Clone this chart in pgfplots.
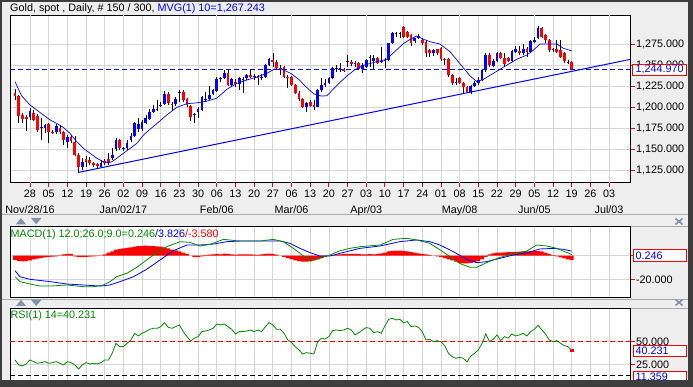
\documentclass[border=0pt]{standalone}
\usepackage{fontspec}
\setmainfont{Liberation Sans}
\usepackage{pgfplots}
\pgfplotsset{compat=1.18}
\usepackage{pgfplotstable}
\definecolor{bgc}{RGB}{238,238,238}
\definecolor{gridc}{RGB}{214,214,214}
\definecolor{darkb}{RGB}{62,62,62}
\definecolor{gblue}{RGB}{0,0,255}
\definecolor{gred}{RGB}{255,0,0}
\definecolor{ggreen}{RGB}{0,140,0}
\definecolor{icon}{RGB}{130,146,172}
\definecolor{sepc}{RGB}{170,170,170}
\newcommand\lbl{\fontsize{10.8}{12}\selectfont}

% up candles: d O H L C
\pgfplotstableread{
d O H L C
0 1188.3 1199.0 1185.0 1195.8
3 1175.3 1187.0 1161.4 1176.3
4 1175.3 1181.0 1169.3 1179.2
7 1171.3 1181.0 1169.0 1178.0
10 1159.5 1167.4 1151.5 1164.6
14 1129.8 1139.7 1125.8 1135.7
19 1129.8 1137.7 1127.8 1134.5
22 1139.7 1151.5 1137.7 1143.6
23 1150.4 1163.4 1148.8 1161.4
25 1150.7 1153.5 1148.8 1152.3
26 1151.5 1161.4 1149.6 1158.3
27 1161.4 1170.1 1159.4 1166.2
28 1166.2 1183.2 1165.4 1181.2
29 1174.1 1187.1 1171.3 1180.4
30 1174.1 1185.2 1172.5 1183.2
31 1182.0 1191.0 1180.4 1187.1
32 1186.3 1197.8 1185.0 1195.0
33 1195.1 1203.0 1193.1 1197.8
34 1197.8 1208.9 1196.0 1198.5
35 1202.0 1207.0 1200.0 1203.5
36 1204.2 1220.0 1203.0 1216.0
39 1204.2 1212.0 1202.0 1209.7
40 1216.8 1220.8 1207.0 1218.8
44 1191.0 1193.1 1181.2 1192.0
45 1195.1 1201.0 1187.1 1197.8
46 1197.0 1213.6 1196.3 1212.1
47 1208.9 1218.8 1206.9 1209.5
48 1209.7 1225.5 1208.9 1214.8
49 1216.0 1222.0 1215.0 1220.8
50 1220.0 1235.8 1218.8 1233.4
51 1234.0 1236.6 1230.7 1234.6
52 1234.6 1244.5 1233.4 1241.3
54 1226.7 1235.0 1225.0 1233.4
56 1227.9 1236.6 1220.8 1234.6
57 1233.0 1236.6 1217.6 1233.6
58 1234.6 1240.0 1233.0 1238.6
60 1236.4 1239.8 1232.6 1237.0
62 1235.5 1239.8 1232.6 1236.2
63 1236.6 1251.5 1235.0 1250.4
64 1250.4 1258.4 1249.2 1257.2
74 1201.0 1206.0 1195.0 1205.0
77 1201.0 1222.0 1200.0 1220.8
78 1220.8 1234.6 1218.8 1226.7
79 1226.7 1233.4 1224.7 1229.5
80 1228.7 1236.6 1227.9 1235.4
81 1234.6 1248.5 1233.4 1247.3
82 1246.0 1250.4 1242.5 1246.6
83 1244.5 1253.2 1242.5 1247.3
85 1254.0 1262.3 1248.5 1254.6
87 1251.2 1255.6 1248.5 1253.2
89 1245.3 1252.4 1240.5 1250.4
90 1248.5 1258.0 1247.0 1256.4
91 1258.8 1262.3 1248.5 1259.4
92 1255.6 1262.3 1244.5 1259.1
94 1254.0 1272.2 1252.4 1254.6
95 1256.0 1258.4 1246.5 1256.6
96 1256.4 1277.0 1255.0 1276.1
97 1276.1 1289.0 1275.0 1288.0
98 1287.8 1290.0 1284.0 1288.4
99 1288.0 1289.2 1282.0 1288.6
103 1279.3 1283.0 1277.0 1282.0
104 1282.0 1287.0 1281.0 1285.3
108 1265.0 1269.0 1261.0 1268.2
114 1229.0 1234.6 1226.7 1229.5
118 1218.8 1227.0 1216.0 1225.5
119 1225.5 1231.0 1224.0 1229.5
120 1229.5 1235.8 1226.7 1232.6
121 1232.6 1246.0 1231.0 1244.5
122 1244.5 1264.3 1242.5 1262.3
124 1249.6 1257.0 1248.0 1255.6
125 1255.6 1266.0 1254.0 1264.3
129 1255.6 1268.2 1254.4 1267.0
130 1266.2 1273.0 1264.3 1269.0
132 1264.3 1275.4 1262.3 1269.4
134 1266.2 1280.0 1265.0 1279.3
135 1278.1 1284.0 1276.1 1280.1
136 1282.1 1296.4 1281.0 1294.0
140 1268.2 1270.2 1266.2 1268.8
144 1253.6 1256.4 1251.2 1254.2
}\upC

% down candles: d O H L C
\pgfplotstableread{
d O H L C
-4 1216.8 1221.6 1208.9 1214.0
-3 1213.6 1214.8 1181.2 1190.3
-2 1191.1 1193.1 1181.2 1186.4
-1 1189.1 1191.1 1172.1 1186.7
1 1193.2 1197.0 1184.0 1185.5
2 1190.0 1192.0 1171.3 1173.3
5 1180.4 1182.0 1157.5 1171.3
6 1171.3 1173.0 1169.0 1170.1
8 1176.0 1179.0 1169.0 1171.3
9 1170.5 1172.5 1155.5 1161.4
11 1164.6 1167.4 1157.5 1160.2
12 1159.5 1166.0 1142.4 1143.6
13 1143.6 1145.6 1122.6 1129.8
15 1138.9 1142.4 1129.8 1134.9
16 1137.7 1141.6 1131.8 1133.7
17 1133.7 1135.7 1129.8 1131.8
18 1132.5 1134.5 1128.6 1130.6
20 1136.5 1138.5 1131.8 1133.7
21 1139.3 1145.6 1131.8 1134.5
24 1161.4 1162.2 1149.6 1151.5
37 1216.0 1218.8 1203.0 1205.0
38 1203.5 1207.0 1196.3 1203.0
41 1218.8 1221.0 1207.0 1208.9
42 1209.7 1210.9 1200.2 1203.0
43 1201.8 1203.0 1184.4 1189.1
53 1241.3 1244.5 1225.5 1226.7
55 1230.7 1233.4 1224.7 1227.5
59 1238.6 1244.5 1234.6 1235.8
61 1237.4 1238.6 1226.7 1235.0
65 1256.4 1264.3 1248.5 1254.4
66 1254.4 1256.4 1244.5 1246.5
67 1246.5 1250.4 1238.6 1246.0
68 1247.7 1249.0 1235.0 1236.6
69 1236.6 1238.6 1222.7 1234.6
70 1236.6 1237.4 1225.0 1226.7
71 1226.7 1227.9 1216.0 1217.6
72 1217.6 1219.0 1208.0 1210.0
73 1209.7 1211.0 1199.0 1201.0
75 1207.0 1208.9 1200.2 1201.8
76 1203.0 1208.9 1197.0 1200.2
84 1245.6 1247.0 1242.0 1243.7
86 1254.4 1256.0 1249.0 1251.2
88 1252.4 1254.0 1244.0 1245.3
93 1259.1 1259.5 1251.6 1252.4
100 1295.9 1297.0 1283.0 1284.0
101 1290.0 1291.0 1282.0 1284.0
102 1286.0 1287.0 1273.0 1276.1
105 1280.0 1282.0 1274.0 1277.0
106 1278.0 1279.0 1259.5 1264.3
107 1268.2 1269.0 1259.5 1265.0
109 1269.0 1270.0 1262.0 1264.3
110 1271.0 1272.0 1255.0 1257.2
111 1257.2 1259.1 1250.4 1256.6
112 1257.2 1259.1 1236.6 1238.6
113 1238.6 1239.8 1227.0 1228.7
115 1234.6 1236.0 1228.0 1229.5
116 1229.5 1230.7 1216.0 1224.7
117 1224.7 1225.5 1217.0 1218.8
123 1262.3 1265.0 1248.5 1250.4
126 1264.3 1266.0 1257.0 1258.4
127 1258.4 1264.3 1248.5 1251.6
128 1259.1 1260.0 1254.0 1255.6
131 1267.4 1273.0 1262.3 1264.3
133 1269.0 1272.2 1260.3 1266.2
137 1294.0 1295.0 1282.0 1284.0
138 1286.0 1286.8 1276.1 1280.1
139 1280.1 1281.0 1266.0 1268.2
141 1269.0 1280.0 1264.3 1266.2
142 1268.2 1280.0 1258.4 1260.3
143 1264.3 1266.2 1252.4 1255.6
145 1254.4 1255.6 1244.5 1245.0
}\dnC

% MACD histogram
\pgfplotstableread{
d h
-4 -3.5
-3 -4.5
-2 -4.8
-1 -4.5
0 -3.8
1 -3
2 -2.5
3 -2
4 -1.5
5 -1
6 -0.8
7 -0.5
8 0.3
9 1
10 1.5
11 1.5
12 -0.5
13 -1
14 -1.2
15 -1
16 -0.8
17 -0.6
18 -0.3
19 0.3
20 1
21 2.5
22 3.5
23 5
24 5.5
25 6
26 6.5
27 7
28 7.5
29 8
30 8.2
31 8.4
32 8.2
33 8
34 7.8
35 7.5
36 7
37 6
38 5
39 4.5
40 3.5
41 2.5
42 1.5
43 0
44 -1
45 -1.2
46 -0.5
47 0.5
48 0.8
49 1
50 1.5
51 1.2
52 1.8
53 1.5
54 1
55 0.8
56 1
57 1
58 1.2
59 1
60 0.8
61 0.6
62 1
63 1.5
64 1.8
65 1.5
66 0.8
67 0
68 -1
69 -2
70 -3
71 -4
72 -4.5
73 -5
74 -5
75 -4.8
76 -4
77 -3
78 -2
79 -1
80 0
81 0.5
82 1
83 1.2
84 1.5
85 1.5
86 1.5
87 1.5
88 1.3
89 1
90 1.2
91 1.3
92 1.2
93 1.5
94 2
95 2.5
96 3.5
97 4
98 4.2
99 4.2
100 4
101 3.5
102 3
103 2.5
104 2
105 1.5
106 1
107 0.5
108 0
109 -0.5
110 -1
111 -2
112 -3
113 -4
114 -5
115 -6
116 -6.5
117 -6.5
118 -6
119 -5.5
120 -4.5
121 -3
122 -1
123 1
124 2
125 2.5
126 2.5
127 2.8
128 3
129 3
130 3.2
131 3.4
132 3.5
133 3.5
134 3.7
135 3.8
136 3.9
137 3.5
138 2.5
139 1.5
140 0.5
141 -0.5
142 -1.5
143 -2.2
144 -3
145 -3.6
}\hist

% RSI
\pgfplotstableread{
d r
-4 29.7
-3 24.3
-2 23.2
-1 25.4
0 29.7
1 27.9
2 26.1
3 26.8
4 27.9
5 26.1
6 26.8
7 27.9
8 26.1
9 24.3
10 27.9
11 26.8
12 24.3
13 19.9
14 24.3
15 26.8
16 25.4
17 26.1
18 25.4
19 26.8
20 29.7
21 29.7
22 37
23 47.8
24 44.2
25 44.2
26 47.8
27 51.4
28 58.7
29 55.8
30 58.7
31 60.5
32 63
33 64.1
34 64.1
35 65.9
36 70.3
37 65.2
38 64.1
39 65.9
40 67.8
41 60.5
42 55.1
43 50.4
44 53.3
45 55.1
46 60.5
47 61.2
48 62.3
49 64.1
50 68.8
51 67.8
52 68.8
53 65.9
54 63
55 58
56 60.5
57 60.5
58 61.2
59 62.3
60 60.5
61 62.3
62 60.5
63 65.9
64 70.3
65 67.8
66 63
67 63
68 58.7
69 51.4
70 48.6
71 44.2
72 40.6
73 36.2
74 37.7
75 37
76 36.2
77 49.6
78 53.3
79 52.5
80 55.1
81 61.6
82 62.3
83 61.6
84 62.3
85 64.1
86 62.3
87 56.9
88 59.4
89 62.3
90 64.9
91 64.1
92 59.4
93 60.5
94 58.7
95 66.7
96 73.9
97 75
98 73.2
99 73.9
100 70.3
101 71.4
102 65.9
103 66.7
104 65.2
105 60.5
106 51.4
107 52.2
108 49.6
109 50.7
110 49.6
111 45.3
112 37
113 33.3
114 31.5
115 32.6
116 31.5
117 27.9
118 34.1
119 37
120 40.6
121 47.8
122 58
123 49.6
124 52.2
125 56.9
126 50.7
127 55.1
128 53.3
129 58
130 55.8
131 56.9
132 58.7
133 55.8
134 60.5
135 63
136 67.4
137 62.3
138 58
139 51.4
140 49.6
141 50.7
142 47.8
143 45.3
144 44.2
145 40.2
}\rsi

\pgfplotsset{
  panel/.style={
    anchor=south west, scale only axis, width=620.7pt,
    xmin=-5.353, xmax=160.79,
    axis line style={draw=black, line width=0.9pt},
    xtick={0,5,...,155},
    grid=major, major grid style={draw=gridc, line width=0.7pt},
    ytick pos=right, yticklabel pos=right,
    tick align=outside, major tick length=4pt,
    tick style={draw=gred, line width=0.9pt},
    tick label style={font=\lbl, text=black},
    yticklabel style={inner sep=1.2pt, /pgf/number format/.cd, fixed, fixed zerofill, precision=3, 1000 sep={,}, assume math mode=true},
    scaled y ticks=false, scaled x ticks=false,
  },
  wick/.style={draw=none, mark=none, forget plot,
    error bars/.cd, y dir=plus, y explicit, error mark=none,
    error bar style={draw=black, line width=0.6pt}},
  body/.style={draw=none, mark=none, forget plot,
    error bars/.cd, y dir=plus, y explicit, error mark=none,
    error bar style={draw=#1, line width=2.7pt}},
}

\begin{document}
\begin{tikzpicture}[x=1pt,y=1pt]
\useasboundingbox (0,0) rectangle (693,387);
\fill[bgc] (0,0) rectangle (693,387);
% separators
\draw[sepc, line width=1pt] (2,172) -- (688,172);
\draw[sepc, line width=1pt] (2,87.5) -- (688,87.5);
\draw[sepc, line width=1pt] (630,160.5) -- (688,160.5);
\draw[sepc, line width=1pt] (630,78.7) -- (688,78.7);

% ---------- main price panel ----------
\begin{axis}[panel, at={(10pt,204.3pt)}, height=167.7pt,
  ymin=1110.76, ymax=1309.77, ytick={1125,1150,...,1275},
  xtick pos=bottom,
  xticklabels={28,05,12,19,26,02,09,16,23,30,06,13,20,27,06,13,20,27,03,10,17,24,01,08,15,22,29,05,12,19,26,03},
  extra x ticks={0,25,50,70,90,115,135,155},
  extra x tick labels={Nov/28/16,Jan/02/17,Feb/06,Mar/06,Apr/03,May/08,Jun/05,Jul/03},
  extra x tick style={xticklabel style={yshift=-15pt}},
  axis background/.style={fill=white},
]
\addplot[wick] table[x=d, y=L, y error expr=\thisrow{H}-\thisrow{L}] {\upC};
\addplot[wick] table[x=d, y=L, y error expr=\thisrow{H}-\thisrow{L}] {\dnC};
\addplot[body=gblue] table[x=d, y=O, y error expr={max(\thisrow{C}-\thisrow{O},0.9)}] {\upC};
\addplot[body=gred] table[x=d, y=C, y error expr={max(\thisrow{O}-\thisrow{C},0.9)}] {\dnC};
% 10-day moving average
\addplot[gblue, line width=0.7pt] coordinates {(-4,1230.7) (-3.4,1224.7) (-2.2,1213.6) (0,1203) (1.8,1197) (3.6,1191) (5.4,1185.2) (7.1,1181.2) (8.9,1176.5) (10.7,1169.3) (12.5,1159.4) (14.3,1151.5) (16.1,1145.6) (17.9,1139.7) (19.6,1135.7) (21,1134.5) (21.9,1135.7) (23.2,1139.7) (25,1145.6) (26.8,1151.5) (28.6,1157.5) (30.4,1167.4) (32.1,1174) (33.5,1179.2) (36.6,1191.1) (39.3,1200.2) (42,1204.5) (44.6,1205.5) (47.3,1207.5) (50,1211) (52.7,1221.6) (55.4,1228.7) (58,1232.6) (60.5,1235.8) (63.4,1240.5) (65.5,1245.8) (67.9,1244.5) (70,1240) (72,1233) (74,1224) (76,1216) (78,1213.5) (79.5,1214) (81,1221) (83,1230) (85,1238) (87,1245) (89.2,1250) (92.8,1254.4) (95.5,1257.2) (97.3,1265) (100,1276) (101.8,1281) (103.5,1284.8) (105.3,1281) (107.1,1278) (109.7,1275.4) (112.4,1266.3) (115,1252.4) (117.8,1237.4) (119.6,1230.7) (121.4,1233.4) (124,1240.5) (127.7,1250.4) (130.3,1257.2) (133,1262.3) (134.8,1268.2) (136.5,1275.4) (138.3,1275.4) (141,1275.4) (142.8,1270.2) (145,1267.2)};
% trend line
\addplot[gblue, line width=1pt] coordinates {(13,1123) (160.8,1257.2)};
% last close line
\addplot[gblue, line width=1pt, dash pattern=on 5pt off 3pt] coordinates {(-5.353,1244.97) (160.79,1244.97)};
\end{axis}

% ---------- MACD panel ----------
\begin{axis}[panel, at={(10pt,89.7pt)}, height=70.6pt,
  ymin=-34.67, ymax=24.17, ytick={-20,0},
  xticklabels={}, x tick style={draw=none},
  axis background/.style={fill=white},
]
\addplot[ybar, bar width=3.8pt, bar shift=0pt, fill=gred, draw=none] table[x=d, y=h] {\hist};
\addplot[gblue, line width=0.8pt] coordinates {(-4,-12.5) (-2.7,-17.5) (0,-19.7) (5.4,-21.6) (9.8,-23.6) (14.3,-24.4) (18.7,-25.3) (21.4,-24.4) (24.1,-21.6) (27.7,-17.5) (31.2,-11.4) (34.8,-3.6) (38.4,4.2) (42,8.9) (45.5,8.9) (49.1,9.7) (52.7,11.7) (56.2,12.2) (61.6,12.2) (67,12.2) (69.6,10.3) (72.3,6.1) (75,2.5) (77.6,-0.25) (80.3,-0.25) (83,2) (88.3,6.1) (93.7,8.1) (99,11.7) (103.5,13.1) (107,11.7) (109.7,8.9) (113.3,3.4) (116.9,-3) (119.6,-5.8) (122.2,-5) (125.8,-2.2) (129.4,0.6) (133,2.5) (136.5,5.6) (140.1,6.1) (142.8,5.3) (145,3.8)};
\addplot[ggreen, line width=0.8pt] coordinates {(-4,-17.5) (-2.7,-21.6) (0,-23.6) (2.7,-25.3) (5.4,-25.3) (9.8,-24.4) (14.3,-25.8) (17,-25.8) (19.6,-24.4) (21.4,-21.6) (23.2,-17.5) (25.9,-14.7) (28.6,-9.7) (31.2,-3.6) (33.9,2.5) (36.6,7.5) (40.2,11.7) (42.8,11.1) (45.5,8.1) (48.2,9.5) (51.8,13.6) (56.2,12.2) (61.6,12.2) (65.1,13.6) (67.8,11.7) (70.5,6.1) (73.2,-0.25) (75.4,-4.1) (77.6,-2.2) (80.3,0.6) (83,4.2) (85.6,6.1) (88.3,7.5) (93.7,8.9) (97.2,13.6) (100.8,14.5) (103.5,13.1) (107,10.3) (109.7,5) (112.4,-0.8) (115,-6.4) (117.8,-9.7) (119.6,-9.7) (122.2,-5.8) (125.8,-1.4) (129.4,1.4) (133,3.9) (135.6,8.9) (138.3,8.1) (141,6.1) (145,1)};
\end{axis}

% ---------- RSI panel ----------
\begin{axis}[panel, at={(10pt,-3pt)}, height=81.7pt,
  ymin=-2.93, ymax=85.87, ytick={25,50},
  xticklabels={}, x tick style={draw=none},
  axis background/.style={fill=white},
]
\addplot[gred, line width=0.9pt, dash pattern=on 5pt off 3pt] coordinates {(-5.353,50) (160.79,50)};
\addplot[black, line width=0.9pt, dash pattern=on 5pt off 3pt] coordinates {(-5.353,12.6) (160.79,12.6)};
\addplot[ggreen, line width=0.8pt] table[x=d, y=r] {\rsi};
\addplot[only marks, mark=square*, mark size=1.4pt, gred] coordinates {(145,40.231)};
\end{axis}

% headers
\node[anchor=base west, inner sep=0pt, font=\lbl] at (10,375.4) {Gold, spot , Daily, \# 150 / 300, \textcolor{gblue}{MVG(1) 10=1,267.243}};
\node[anchor=base west, inner sep=0pt, font=\lbl] at (10.5,149.7) {\textcolor{ggreen}{MACD(1) 12.0;26.0;9.0=0.246}\textcolor{gblue}{/3.826}\textcolor{gred}{/-3.580}};
\node[anchor=base west, inner sep=0pt, font=\lbl] at (10.5,68) {\textcolor{ggreen}{RSI(1) 14=40.231}};

% value boxes
\draw[gred, fill=white, line width=0.9pt] (632.7,312) rectangle (686.7,323);
\node[anchor=west, inner sep=0pt, font=\lbl, text=gblue] at (635.3,317.5) {1,244.970};
\draw[gred, fill=white, line width=0.9pt] (633.3,125.3) rectangle (686.7,137.7);
\node[anchor=west, inner sep=0pt, font=\lbl, text=gblue] at (635.5,131.5) {0.246};
\draw[gred, fill=white, line width=0.9pt] (633.3,30.3) rectangle (686.7,42);
\node[anchor=west, inner sep=0pt, font=\lbl, text=gblue] at (635.5,36.2) {40.231};
\draw[gred, fill=white, line width=0.9pt] (633.3,5.3) rectangle (686.7,16);
\node[anchor=west, inner sep=0pt, font=\lbl, text=gblue] at (635.5,10.7) {11.359};

% panel icons
\fill[icon] (16,162.7) -- (26,162.7) -- (21,169) -- cycle;
\fill[icon] (31,169) -- (41.5,169) -- (36.2,162.7) -- cycle;
\fill[icon] (16,81) -- (26,81) -- (21,87.3) -- cycle;
\fill[icon] (31,87.3) -- (41.5,87.3) -- (36.2,81) -- cycle;
\draw[icon, line width=1.6pt] (675.5,162.5) -- (682.5,168.5) (675.5,168.5) -- (682.5,162.5);
\draw[icon, line width=1.6pt] (675.5,81.5) -- (682.5,87.5) (675.5,87.5) -- (682.5,81.5);

% window border
\fill[darkb] (0,0) rectangle (693,6.5);
\fill[darkb] (0,384.5) rectangle (693,387);
\fill[darkb] (0,0) rectangle (2.3,387);
\fill[darkb] (688.3,0) rectangle (693,387);
\end{tikzpicture}
\end{document}
